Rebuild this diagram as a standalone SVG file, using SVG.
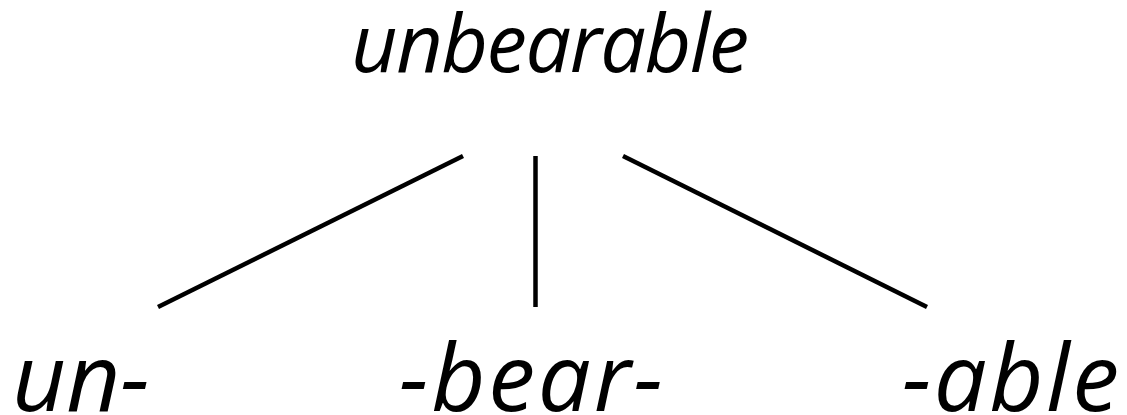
<svg xmlns="http://www.w3.org/2000/svg" width="1127" height="415" viewBox="0 0 1127 415">
<style>
.t{font-family:"Open Sans","Noto Sans",sans-serif;font-style:italic;fill:#000}
.top{font-size:81px}
.bot{font-size:94px}
.c{stroke:#000;stroke-width:4.5;fill:none}
</style>
<rect width="1127" height="415" fill="#fff"/>
<g id="node-root"><text class="t top" x="351" y="72" textLength="398">unbearable</text></g>
<g id="node-un"><text class="t bot" x="12" y="411">un-</text></g>
<g id="node-bear"><text class="t bot" x="399" y="411" textLength="264">-bear-</text></g>
<g id="node-able"><text class="t bot" x="902" y="411" textLength="217">-able</text></g>
<g id="connectors">
<line class="c" x1="158" y1="307" x2="463" y2="156"/>
<line class="c" x1="535.5" y1="156" x2="535.5" y2="307"/>
<line class="c" x1="623" y1="156" x2="927" y2="307"/>
</g>
</svg>
